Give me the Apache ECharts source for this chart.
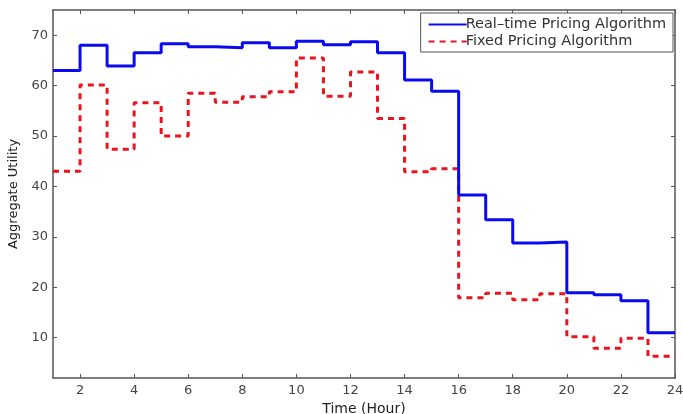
<!DOCTYPE html>
<html>
<head>
<meta charset="utf-8">
<script src="https://cdn.jsdelivr.net/npm/echarts@6/dist/echarts.min.js"></script>
<style>html,body{margin:0;padding:0;background:#fff}#c{width:683px;height:414px}</style>
</head>
<body>
<div id="c"></div>
<script>
const hours = [1,2,3,4,5,6,7,8,9,10,11,12,13,14,15,16,17,18,19,20,21,22,23,24];
const realTime = [63.0,68.0,63.9,66.5,68.3,67.7,67.5,68.5,67.5,68.8,68.1,68.7,66.5,61.1,58.9,38.3,33.4,28.8,29.0,18.9,18.5,17.3,11.0,11.0];
const fixedPrice = [43.0,60.1,47.4,56.6,50.0,58.5,56.7,57.8,58.8,65.5,57.9,62.7,53.5,42.9,43.5,17.9,18.8,17.5,18.7,10.2,7.9,9.9,6.3,6.3];
const xTicks = [2,4,6,8,10,12,14,16,18,20,22,24];
const yTicks = [10,20,30,40,50,60,70];
const seriesNames = ['Real–time Pricing Algorithm','Fixed Pricing Algorithm'];

const font = '"DejaVu Sans", Verdana, sans-serif';
const axisColor = '#555';
const chart = echarts.init(document.getElementById('c'));
const baseX = {
  type:'value', min:1, max:24,
  axisLine:{show:true,onZero:false,lineStyle:{color:axisColor,width:1.5}},
  splitLine:{show:false},
  axisTick:{show:true,inside:true,length:4,customValues:xTicks,lineStyle:{color:axisColor}},
};
const baseY = {
  type:'value', min:2, max:75,
  axisLine:{show:true,onZero:false,lineStyle:{color:axisColor,width:1.5}},
  splitLine:{show:false},
  axisTick:{show:true,inside:true,length:4,customValues:yTicks,lineStyle:{color:axisColor}},
};
chart.setOption({
  animation:false,
  backgroundColor:'#fff',
  grid:{left:53,right:8,top:10,bottom:36,outerBoundsMode:'none',containLabel:false},
  legend:{
    show:true, orient:'vertical', right:10, top:13,
    data:seriesNames,
    itemWidth:38, itemHeight:12, itemGap:2,
    padding:[4,7,3,7],
    itemStyle:{opacity:0},
    borderColor:'#555', borderWidth:1, backgroundColor:'#fff',
    textStyle:{fontFamily:font,fontSize:14.5,color:'#333',padding:[0,0,0,-6]}
  },
  xAxis:[
    Object.assign({}, baseX, {position:'bottom',
      name:'Time (Hour)', nameLocation:'middle', nameGap:19,
      nameTextStyle:{fontFamily:font,fontSize:14,color:'#222'},
      axisLabel:{show:true,customValues:xTicks,fontFamily:font,fontSize:13,color:'#444',margin:6}}),
    Object.assign({}, baseX, {position:'top',axisLabel:{show:false}})
  ],
  yAxis:[
    Object.assign({}, baseY, {position:'left',
      name:'Aggregate Utility', nameLocation:'middle', nameGap:32, nameRotate:90,
      nameTextStyle:{fontFamily:font,fontSize:13,color:'#222'},
      axisLabel:{show:true,customValues:yTicks,fontFamily:font,fontSize:13,color:'#444',margin:5}}),
    Object.assign({}, baseY, {position:'right',axisLabel:{show:false}})
  ],
  series:[
    {name:seriesNames[0], type:'line', step:'end', symbol:'none', xAxisIndex:0, yAxisIndex:0,
     data:hours.map((h,i)=>[h,realTime[i]]),
     lineStyle:{color:'#0a0af0',width:3}, itemStyle:{color:'#0a0af0'}, z:3},
    {name:seriesNames[1], type:'line', step:'end', symbol:'none', xAxisIndex:0, yAxisIndex:0,
     data:hours.map((h,i)=>[h,fixedPrice[i]]),
     lineStyle:{color:'#e8141e',width:3,type:[6,5]}, itemStyle:{color:'#e8141e'}, z:2}
  ]
});
</script>
</body>
</html>
